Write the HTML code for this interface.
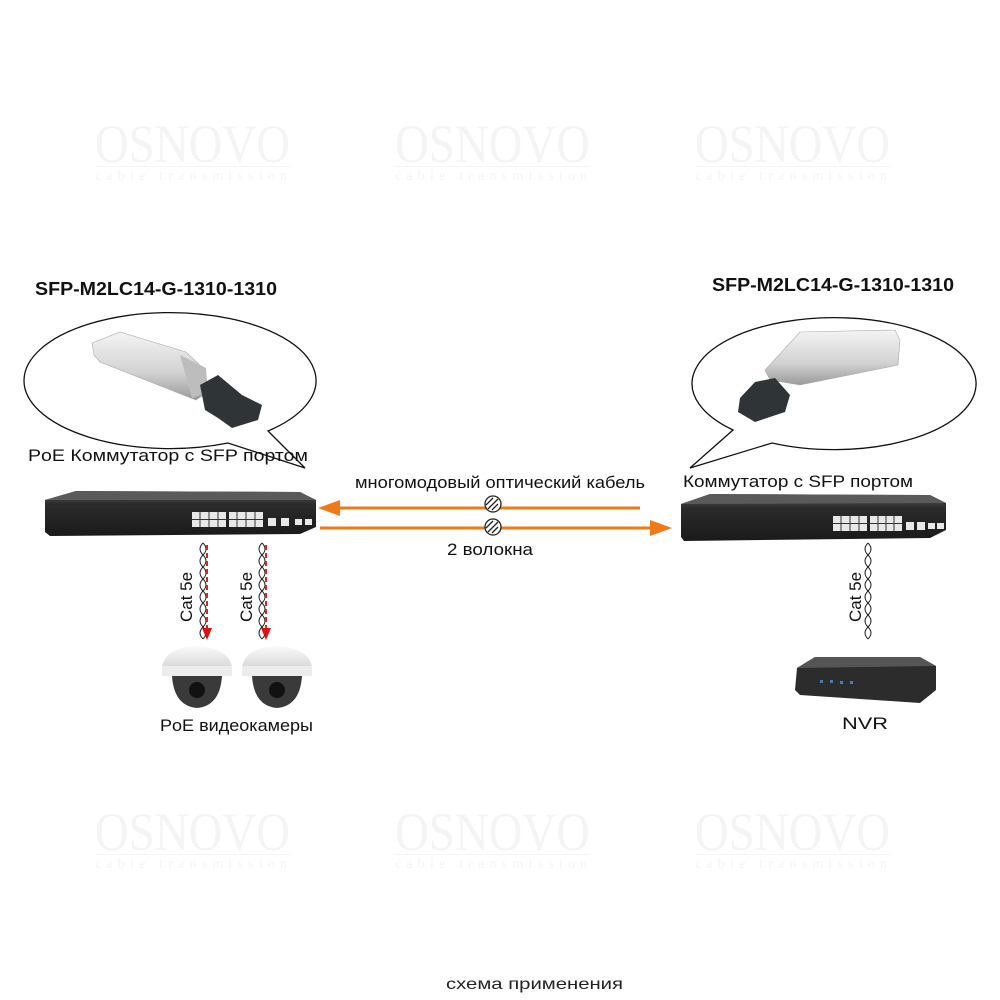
<!DOCTYPE html>
<html><head><meta charset="utf-8"><style>
html,body{margin:0;padding:0;background:#fff}
svg{display:block}
text{font-family:"Liberation Sans",sans-serif}
.wm{font-family:"Liberation Serif",serif;fill:#f4f4f4}
</style></head><body>
<svg width="1000" height="1000" viewBox="0 0 1000 1000" xmlns="http://www.w3.org/2000/svg">
<defs>
<linearGradient id="sil" x1="0" y1="0" x2="0" y2="1"><stop offset="0" stop-color="#f4f4f4"/><stop offset="0.6" stop-color="#d2d2d2"/><stop offset="1" stop-color="#9a9a9a"/></linearGradient>
<linearGradient id="sw" x1="0" y1="0" x2="0" y2="1"><stop offset="0" stop-color="#555"/><stop offset="0.3" stop-color="#2b2b2b"/><stop offset="1" stop-color="#1a1a1a"/></linearGradient>
<linearGradient id="dome" x1="0" y1="0" x2="0" y2="1"><stop offset="0" stop-color="#fafafa"/><stop offset="1" stop-color="#d8d8d8"/></linearGradient>
<g id="wmk">
<text class="wm" x="0" y="40" font-size="54" textLength="195" lengthAdjust="spacingAndGlyphs">OSNOVO</text>
<rect x="0" y="44" width="195" height="1" fill="#f5f5f5"/>
<text class="wm" x="0" y="58" font-size="14" textLength="195" letter-spacing="3">cable transmission</text>
</g>
<g id="tw">
<path d="M0,0 q6,6 0,12 q-6,6 0,12 q6,6 0,12 q-6,6 0,12 q6,6 0,12 q-6,6 0,12 q6,6 0,12 q-6,6 0,12" fill="none" stroke="#222" stroke-width="1"/>
<path d="M0,0 q-6,6 0,12 q6,6 0,12 q-6,6 0,12 q6,6 0,12 q-6,6 0,12 q6,6 0,12 q-6,6 0,12 q6,6 0,12" fill="none" stroke="#222" stroke-width="1"/>
</g>
</defs>

<use href="#wmk" x="95" y="122"/><use href="#wmk" x="395" y="122"/><use href="#wmk" x="695" y="122"/>
<use href="#wmk" x="95" y="810"/><use href="#wmk" x="395" y="810"/><use href="#wmk" x="695" y="810"/>

<text x="35" y="295" font-size="18" font-weight="bold" fill="#111" textLength="242" lengthAdjust="spacingAndGlyphs">SFP-M2LC14-G-1310-1310</text>
<text x="712" y="291" font-size="18" font-weight="bold" fill="#111" textLength="242" lengthAdjust="spacingAndGlyphs">SFP-M2LC14-G-1310-1310</text>

<path d="M228,443 A146,68 0 1 1 268,431 L305,468 Z" fill="#fff" stroke="#111" stroke-width="1.3"/>
<polygon points="92,343 120,332 186,352 205,370 208,392 196,400 100,362 94,355" fill="url(#sil)" stroke="#aaa" stroke-width="0.6"/>
<polygon points="180,355 206,368 208,392 192,398" fill="#bdbdbd"/>
<polygon points="200,385 218,375 242,395 262,405 258,420 232,428 218,418 205,410" fill="#2f3537"/>
<path d="M733,430 A142,66 0 1 1 772,443 L690,468 Z" fill="#fff" stroke="#111" stroke-width="1.3"/>
<polygon points="800,332 895,330 900,340 898,365 800,385 770,380 765,370" fill="url(#sil)" stroke="#aaa" stroke-width="0.6"/>
<polygon points="740,398 755,382 775,378 790,395 785,412 755,422 738,412" fill="#2f3537"/>

<text x="28" y="461" font-size="17" fill="#111" textLength="280" lengthAdjust="spacingAndGlyphs">PoE Коммутатор с SFP портом</text>
<text x="683" y="487" font-size="17" fill="#111" textLength="230" lengthAdjust="spacingAndGlyphs">Коммутатор с SFP портом</text>
<text x="355" y="488" font-size="17" fill="#111" textLength="290" lengthAdjust="spacingAndGlyphs">многомодовый оптический кабель</text>
<text x="447" y="555" font-size="17" fill="#111" textLength="86" lengthAdjust="spacingAndGlyphs">2 волокна</text>

<polygon points="45,500 76,491 300,492 316,500 316,527 300,534 50,536 45,532" fill="url(#sw)"/>
<polygon points="45,500 76,491 300,492 316,500" fill="#5a5a5a"/>
<g fill="#e8e8e8"><rect x="192" y="512" width="34" height="15"/><rect x="229" y="512" width="34" height="15"/><rect x="268" y="518" width="8" height="8"/><rect x="281" y="518" width="8" height="8"/><rect x="295" y="519" width="7" height="6"/><rect x="305" y="519" width="7" height="6"/></g>
<g stroke="#333" stroke-width="1"><path d="M192,519.5h71M200,512v15M209,512v15M218,512v15M237,512v15M246,512v15M255,512v15"/></g>
<polygon points="681,504 710,494 930,495 946,503 946,530 930,538 684,541 681,537" fill="url(#sw)"/>
<polygon points="681,504 710,494 930,495 946,503" fill="#5a5a5a"/>
<g fill="#e8e8e8"><rect x="833" y="516" width="34" height="15"/><rect x="870" y="516" width="32" height="15"/><rect x="906" y="522" width="8" height="8"/><rect x="917" y="522" width="8" height="8"/><rect x="928" y="523" width="7" height="6"/><rect x="937" y="523" width="7" height="6"/></g>
<g stroke="#333" stroke-width="1"><path d="M833,523.5h69M841,516v15M850,516v15M859,516v15M878,516v15M886,516v15M894,516v15"/></g>

<line x1="640" y1="508" x2="335" y2="508" stroke="#f07a1a" stroke-width="3"/>
<polygon points="318,508 340,500 340,516" fill="#f07a1a"/>
<line x1="320" y1="528" x2="652" y2="528" stroke="#f07a1a" stroke-width="3"/>
<polygon points="672,528 650,520 650,536" fill="#f07a1a"/>
<g fill="#fff" stroke="#222" stroke-width="1.3"><circle cx="493" cy="504" r="8"/><circle cx="493" cy="527" r="8"/></g>
<g stroke="#222" stroke-width="1.3"><path d="M488,509l10,-10M486,505l7,-7M492,510l6,-6"/><path d="M488,532l10,-10M486,528l7,-7M492,533l6,-6"/></g>

<use href="#tw" x="203" y="543"/><use href="#tw" x="262" y="543"/><use href="#tw" x="868" y="543"/>
<g stroke="#d22" stroke-width="2" stroke-dasharray="5,3"><line x1="207" y1="545" x2="207" y2="630"/><line x1="266" y1="545" x2="266" y2="630"/></g>
<g fill="#d11"><polygon points="202,628 212,628 207,640"/><polygon points="261,628 271,628 266,640"/></g>
<g font-size="17" fill="#111">
<text transform="translate(192,622) rotate(-90)">Cat 5e</text>
<text transform="translate(252,622) rotate(-90)">Cat 5e</text>
<text transform="translate(861,622) rotate(-90)">Cat 5e</text>
</g>

<g>
<path d="M162,668 q2,-20 34,-22 q34,2 36,22 z" fill="url(#dome)"/>
<rect x="162" y="666" width="70" height="10" fill="#ececec"/>
<path d="M172,676 h50 q-2,30 -25,32 q-23,-2 -25,-32z" fill="#3a3a3a"/>
<circle cx="197" cy="690" r="8" fill="#111"/>
<path d="M242,668 q2,-20 34,-22 q34,2 36,22 z" fill="url(#dome)"/>
<rect x="242" y="666" width="70" height="10" fill="#ececec"/>
<path d="M252,676 h50 q-2,30 -25,32 q-23,-2 -25,-32z" fill="#3a3a3a"/>
<circle cx="277" cy="690" r="8" fill="#111"/>
</g>
<text x="160" y="731" font-size="17" fill="#111" textLength="153" lengthAdjust="spacingAndGlyphs">PoE видеокамеры</text>

<polygon points="797,668 815,657 920,657 936,666 936,690 920,703 800,695 795,690" fill="#2c2c2c"/>
<polygon points="797,668 815,657 920,657 936,666" fill="#555"/>
<g fill="#4a7ab0"><rect x="820" y="680" width="3" height="3"/><rect x="830" y="680" width="3" height="3"/><rect x="840" y="681" width="3" height="3"/><rect x="850" y="681" width="3" height="3"/></g>
<text x="842" y="729" font-size="17" fill="#111" textLength="46" lengthAdjust="spacingAndGlyphs">NVR</text>

<text x="446" y="989" font-size="16" fill="#222" textLength="177" lengthAdjust="spacingAndGlyphs">схема применения</text>
</svg>
</body></html>
